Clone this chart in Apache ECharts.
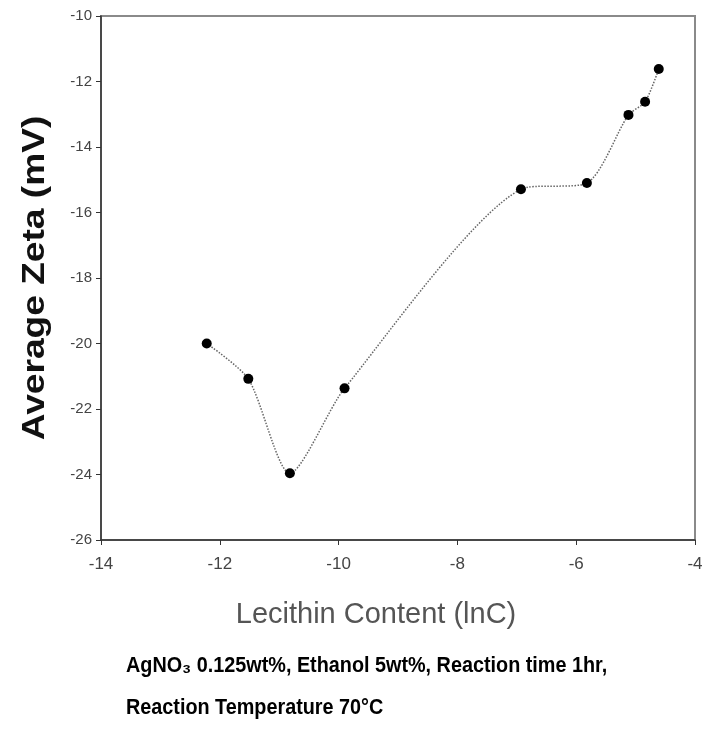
<!DOCTYPE html>
<html>
<head>
<meta charset="utf-8">
<script src="https://cdn.jsdelivr.net/npm/echarts@6/dist/echarts.min.js"></script>
<style>
  html, body { margin: 0; padding: 0; background: #fff; }
  #chart { width: 706px; height: 733px; }
</style>
</head>
<body>
<div id="chart"></div>
<script>
// lecithin content (ln C) and average zeta potential (mV)
const lnC = [-12.22, -11.52, -10.82, -9.90, -6.93, -5.82, -5.12, -4.84, -4.61];
const zeta = [-20.0, -21.08, -23.96, -21.37, -15.29, -15.10, -13.02, -12.62, -11.62];
const yTitle = "Average Zeta (mV)";
const noteLines = [
  "AgNO\u2083 0.125wt%, Ethanol 5wt%, Reaction time 1hr,",
  "Reaction Temperature 70\u00B0C"
];

const chart = echarts.init(document.getElementById("chart"));
const font = "Liberation Sans, Arial, sans-serif";

const notes = noteLines.map((t, i) => ({
  type: "text",
  x: 126,
  y: 655 + i * 42,
  scaleX: 0.9,
  style: {
    text: t,
    fontFamily: font,
    fontSize: 22,
    fontWeight: "bold",
    fill: "#000",
    verticalAlign: "top"
  }
}));

chart.setOption({
  animation: false,
  backgroundColor: "#fff",
  grid: {
    left: 101,
    top: 16,
    right: 11,
    bottom: 193,
    show: true,
    borderColor: "#8a8a8a",
    borderWidth: 2
  },
  xAxis: {
    type: "value",
    min: -14,
    max: -4,
    interval: 2,
    name: "Lecithin Content (lnC)",
    nameLocation: "middle",
    nameGap: 60,
    nameTextStyle: {
      fontFamily: font, fontSize: 29, color: "#555",
      padding: [0, 44, 0, 0]
    },
    axisLine: { lineStyle: { color: "#333", width: 1.5 } },
    axisTick: { inside: false, length: 5, lineStyle: { color: "#333" } },
    axisLabel: { fontFamily: font, fontSize: 17, color: "#444", margin: 16 },
    splitLine: { show: false }
  },
  yAxis: {
    type: "value",
    min: -26,
    max: -10,
    interval: 2,
    axisLine: { lineStyle: { color: "#333", width: 1.5 } },
    axisTick: { inside: false, length: 5, lineStyle: { color: "#333" } },
    axisLabel: { fontFamily: font, fontSize: 15, color: "#444", margin: 9 },
    splitLine: { show: false }
  },
  series: [
    {
      type: "line",
      data: lnC.map((x, i) => [x, zeta[i]]),
      smooth: 0.25,
      symbol: "circle",
      symbolSize: 10,
      itemStyle: { color: "#000" },
      lineStyle: { color: "#666", width: 1.5, type: "dotted" }
    }
  ],
  graphic: [
    {
      type: "text",
      x: 51,
      y: 278,
      rotation: Math.PI / 2,
      scaleX: 1.16,
      style: {
        text: yTitle,
        fontFamily: font,
        fontSize: 32,
        fontWeight: "bold",
        fill: "#111",
        align: "center",
        verticalAlign: "bottom"
      }
    }
  ].concat(notes)
});
</script>
</body>
</html>
